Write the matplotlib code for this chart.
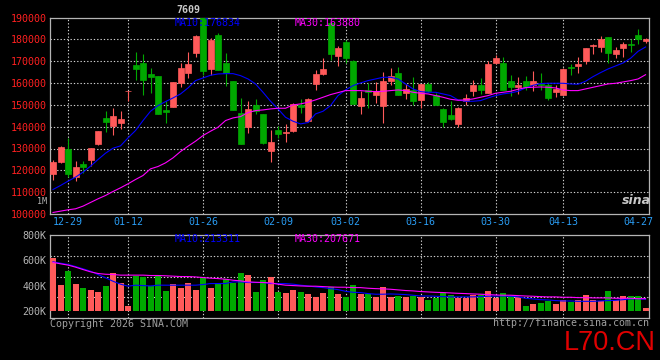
import matplotlib
matplotlib.use("Agg")
import matplotlib.pyplot as plt

plt.rcParams['font.family'] = ['DejaVu Sans Mono']

# Daily K-line data (index 0 .. 79)
open_ = [118390, 123880, 129980, 117170, 122900, 124950, 132120, 144010, 140500, 141720,
         156200, 168410, 169020, 164140, 163230, 147670, 149200, 160020, 164600, 173750,
         191000, 166430, 181830, 169020, 160940, 146300, 139890, 149960, 145840, 129070,
         138520, 137000, 137910, 149960, 142490, 159570, 164140, 187320, 172530, 178780,
         170090, 149500, 156670, 154530, 149650, 161090, 164600, 155300, 156820, 152250,
         159720, 154530, 148130, 145380, 141270, 151790, 156360, 159110, 155450, 169170,
         169170, 160940, 158350, 160940, 159110, 159570, 159110, 155910, 154530, 167340,
         167800, 170090, 176950, 176490, 181070, 173290, 176040, 177710, 181980, 179240]
high = [124800, 131050, 134860, 124490, 124500, 130400, 138220, 147210, 148590, 147210,
        156400, 174200, 173290, 166730, 163300, 151640, 160500, 169020, 174200, 182140,
        193000, 180610, 182900, 173600, 161000, 153160, 151640, 152700, 145900, 138520,
        140500, 141270, 150720, 152700, 153310, 165970, 171460, 187630, 176950, 179850,
        170550, 156210, 159870, 160630, 164900, 166890, 167340, 159570, 162770, 159600,
        160330, 155600, 148500, 151640, 149200, 154990, 161400, 162310, 169940, 172680,
        172070, 163680, 162770, 163230, 165510, 164600, 160020, 159110, 166890, 168720,
        171920, 176100, 177870, 181530, 181100, 176490, 178780, 180150, 184730, 180610]
low = [115800, 123580, 117170, 115340, 119000, 122200, 131660, 137610, 136390, 139130,
       151940, 161550, 154690, 155300, 145840, 141880, 148890, 158040, 162160, 172070,
       163500, 163680, 165800, 158800, 147800, 132200, 137300, 145840, 132270, 124030,
       134860, 133180, 137600, 146150, 142180, 156820, 163680, 170700, 167950, 169170,
       150300, 145840, 148740, 150720, 141720, 158960, 154530, 152860, 149960, 148740,
       156060, 149900, 139890, 143100, 140050, 150110, 154230, 154990, 155400, 168720,
       156800, 154080, 154990, 156820, 156360, 156820, 152250, 153620, 154500, 163680,
       164600, 168720, 173290, 174210, 169170, 171460, 171920, 174210, 177870, 178320]
close = [123880, 130900, 118390, 121590, 121300, 130290, 138060, 142330, 144930, 143550,
         156400, 166580, 161550, 162920, 145990, 146910, 160480, 166890, 168720, 181530,
         165500, 179850, 165970, 164750, 147830, 132270, 148130, 147370, 132570, 133180,
         136840, 137610, 150420, 149040, 152700, 164140, 166430, 173290, 176190, 171610,
         150420, 153160, 155750, 156210, 160940, 163070, 154690, 157280, 151790, 159570,
         156210, 149960, 142330, 143550, 148590, 153160, 159110, 156970, 168720, 171460,
         156820, 158190, 159260, 158190, 160940, 159260, 153160, 157280, 166430, 167040,
         168720, 176040, 177410, 180150, 173900, 175120, 177870, 177560, 180150, 180150]

ma10 = [111220, 113050, 115040, 116870, 119150, 121900, 124950, 127840, 130130, 131200,
        134860, 138220, 142790, 147060, 149650, 151480, 153160, 154990, 157740, 161090,
        162310, 163530, 164140, 164290, 164290, 163380, 161850, 159570, 155750, 151640,
        148130, 144320, 142490, 141270, 141880, 145840, 147060, 149650, 154230, 156820,
        158800, 160020, 161090, 161850, 162620, 162620, 161850, 159570, 157280, 156060,
        155750, 155750, 154990, 154230, 152250, 151640, 151640, 151940, 153160, 154230,
        154990, 155450, 156210, 157740, 158960, 159720, 159870, 159870, 159870, 159570,
        159410, 160790, 162920, 164750, 166430, 167800, 169170, 171310, 174500, 176500]
ma30 = [100700, 101310, 101920, 102380, 103600, 105280, 106950, 108480, 110310, 111990,
        113820, 115800, 117630, 120680, 121750, 123420, 125710, 128610, 131050, 133340,
        135930, 137910, 139740, 142790, 144010, 144620, 146450, 147370, 147670, 148130,
        148430, 148430, 149960, 150420, 151180, 152250, 153470, 154690, 155600, 156520,
        156520, 156520, 156210, 156060, 156210, 156520, 156820, 156520, 155750, 155300,
        154990, 154230, 153470, 152550, 152090, 152250, 152700, 153470, 154230, 155300,
        155750, 156210, 157130, 157890, 158040, 158190, 158040, 157740, 156820, 156520,
        156520, 157280, 158040, 158800, 159570, 159870, 160480, 161090, 161850, 163800]

volume = [618, 408, 516, 413, 382, 366, 350, 397, 500, 424,
          242, 476, 471, 400, 482, 358, 413, 382, 421, 366,
          463, 382, 421, 455, 424, 500, 484, 350, 442, 468,
          350, 342, 366, 350, 334, 313, 339, 389, 334, 313,
          405, 334, 334, 313, 389, 313, 318, 313, 318, 311,
          289, 300, 342, 324, 303, 303, 326, 324, 358, 300,
          342, 316, 311, 239, 255, 263, 276, 255, 289, 271,
          289, 326, 289, 282, 358, 289, 318, 318, 316, 224]
vol_ma10 = [587, 576, 566, 550, 532, 513, 487, 461, 434, 411,
            395, 403, 400, 397, 403, 403, 403, 403, 403, 403,
            408, 416, 416, 416, 429, 429, 424, 424, 424, 416,
            416, 416, 411, 403, 397, 389, 384, 376, 368, 355,
            347, 345, 337, 332, 332, 334, 332, 329, 324, 318,
            318, 316, 313, 311, 311, 311, 311, 313, 316, 318,
            318, 316, 311, 300, 295, 289, 287, 282, 279, 279,
            276, 276, 276, 279, 282, 284, 289, 295, 297, 292]
vol_ma30 = [582, 571, 561, 545, 526, 508, 495, 489, 487, 482,
            482, 482, 482, 479, 479, 477, 474, 471, 471, 468,
            463, 458, 455, 450, 442, 437, 429, 426, 424, 421,
            411, 403, 400, 397, 395, 395, 392, 389, 387, 387,
            384, 384, 379, 376, 374, 371, 366, 361, 358, 353,
            350, 347, 345, 342, 339, 337, 334, 332, 329, 326,
            324, 324, 321, 318, 316, 313, 311, 311, 308, 308,
            305, 305, 303, 303, 303, 300, 300, 300, 297, 297]

date_labels = ['12-29', '01-12', '01-26', '02-09', '03-02', '03-16', '03-30', '04-13', '04-27']
date_index = [2, 10, 20, 30, 39, 49, 59, 68, 78]
price_ticks = [100000, 110000, 120000, 130000, 140000, 150000, 160000, 170000, 180000, 190000]
vol_ticks = [200000, 400000, 600000, 800000]
vol_tick_labels = ['200K', '400K', '600K', '800K']

RED = '#ff5a5a'
GREEN = '#00a800'
GRID = '#d0d0d0'
BORDER = '#b4b4b4'

fig = plt.figure(figsize=(6.6, 3.6), dpi=100, facecolor='black')
ax = fig.add_axes([50 / 660, 146 / 360, 599.3 / 660, 196.5 / 360], facecolor='black')
axv = fig.add_axes([50 / 660, 41.7 / 360, 599.3 / 660, 83.6 / 360], facecolor='black')

n = len(close)
xs = list(range(n))

# candles
for i in xs:
    c = RED if close[i] >= open_[i] else GREEN
    ax.vlines(i, low[i], high[i], color=c, lw=0.8, zorder=2)
    ax.bar(i, close[i] - open_[i], bottom=open_[i], width=0.8, color=c,
           edgecolor=c, linewidth=0.5, zorder=3)
ax.plot(xs, ma10, color='#0000ff', lw=0.8, zorder=4)
ax.plot(xs, ma30, color='#ff00ff', lw=0.8, zorder=4)

ax.set_xlim(-0.4, 79.5)
ax.set_ylim(100000, 190000)
for p in price_ticks[1:-1]:
    ax.axhline(p, color=GRID, lw=0.8, ls=(0, (1.2, 1.8)), zorder=1)
for d in date_index[:-1]:
    ax.axvline(d, color=GRID, lw=0.8, ls=(0, (1.2, 1.8)), zorder=1)
ax.set_yticks(price_ticks)
ax.set_yticklabels([str(p) for p in price_ticks])
ax.set_xticks(date_index)
ax.set_xticklabels(date_labels)
ax.tick_params(axis='y', length=0, pad=2.4, labelcolor='#ff2020', labelsize=7.2)
ax.tick_params(axis='x', length=0, pad=2.2, labelcolor='#2a9df4', labelsize=7.2)
for s in ax.spines.values():
    s.set_color(BORDER)
    s.set_linewidth(0.9)

# volume
vol = [v * 1000 for v in volume]
base = 200000
for i in xs:
    c = RED if close[i] >= open_[i] else GREEN
    axv.bar(i, vol[i] - base, bottom=base, width=0.8, color=c, linewidth=0, zorder=3)
axv.plot(xs, [v * 1000 for v in vol_ma10], color='#0000ff', lw=0.8, zorder=4)
axv.plot(xs, [v * 1000 for v in vol_ma30], color='#ff00ff', lw=0.8, zorder=4)
axv.set_xlim(-0.4, 79.5)
axv.set_ylim(142600, 800000)
for f in (0.25, 0.5, 0.75):
    axv.plot([0, 1], [f, f], transform=axv.transAxes, color=GRID, lw=0.8,
             ls=(0, (1.2, 1.8)), zorder=1)
for d in date_index[:-1]:
    axv.axvline(d, color=GRID, lw=0.8, ls=(0, (1.2, 1.8)), zorder=1)
axv.set_yticks(vol_ticks)
axv.set_yticklabels(vol_tick_labels)
axv.set_xticks([])
axv.tick_params(axis='y', length=0, pad=2.4, labelcolor='#b4b4b4', labelsize=7.2)
for s in axv.spines.values():
    s.set_color(BORDER)
    s.set_linewidth(0.9)

# labels
def px(x, y):
    return x / 660, (360 - y) / 360

kw = dict(fontsize=7.2, va='center')
fig.text(*px(175, 23.3), 'MA10:176834', color='#0000ff', ha='left', **kw)
fig.text(*px(295, 23.3), 'MA30:163880', color='#ff00ff', ha='left', **kw)
fig.text(*px(175, 238.5), 'MA10:213311', color='#0000ff', ha='left', **kw)
fig.text(*px(295, 238.5), 'MA30:207671', color='#ff00ff', ha='left', **kw)
fig.text(*px(188, 10), '7609', color='#c8c8c8', ha='center', fontweight='bold', **kw)
fig.text(*px(46.7, 202), '1M', color='#b4b4b4', ha='right', fontsize=6, va='center')
fig.text(*px(50, 323.7), 'Copyright 2026 SINA.COM', color='#a0a0a0', ha='left', **kw)
fig.text(*px(649, 323.2), 'http://finance.sina.com.cn', color='#a0a0a0', ha='right', **kw)
fig.text(*px(636, 201), 'sina', color='#c8c8c8', ha='center', fontsize=9,
         fontstyle='italic', fontweight='bold', va='center', family='DejaVu Sans')
fig.text(*px(656, 350.5), 'L70.CN', color='#e00000', ha='right', va='baseline',
         fontsize=19.5, family='Liberation Sans')

fig.savefig('out.png', dpi=100, facecolor='black')
